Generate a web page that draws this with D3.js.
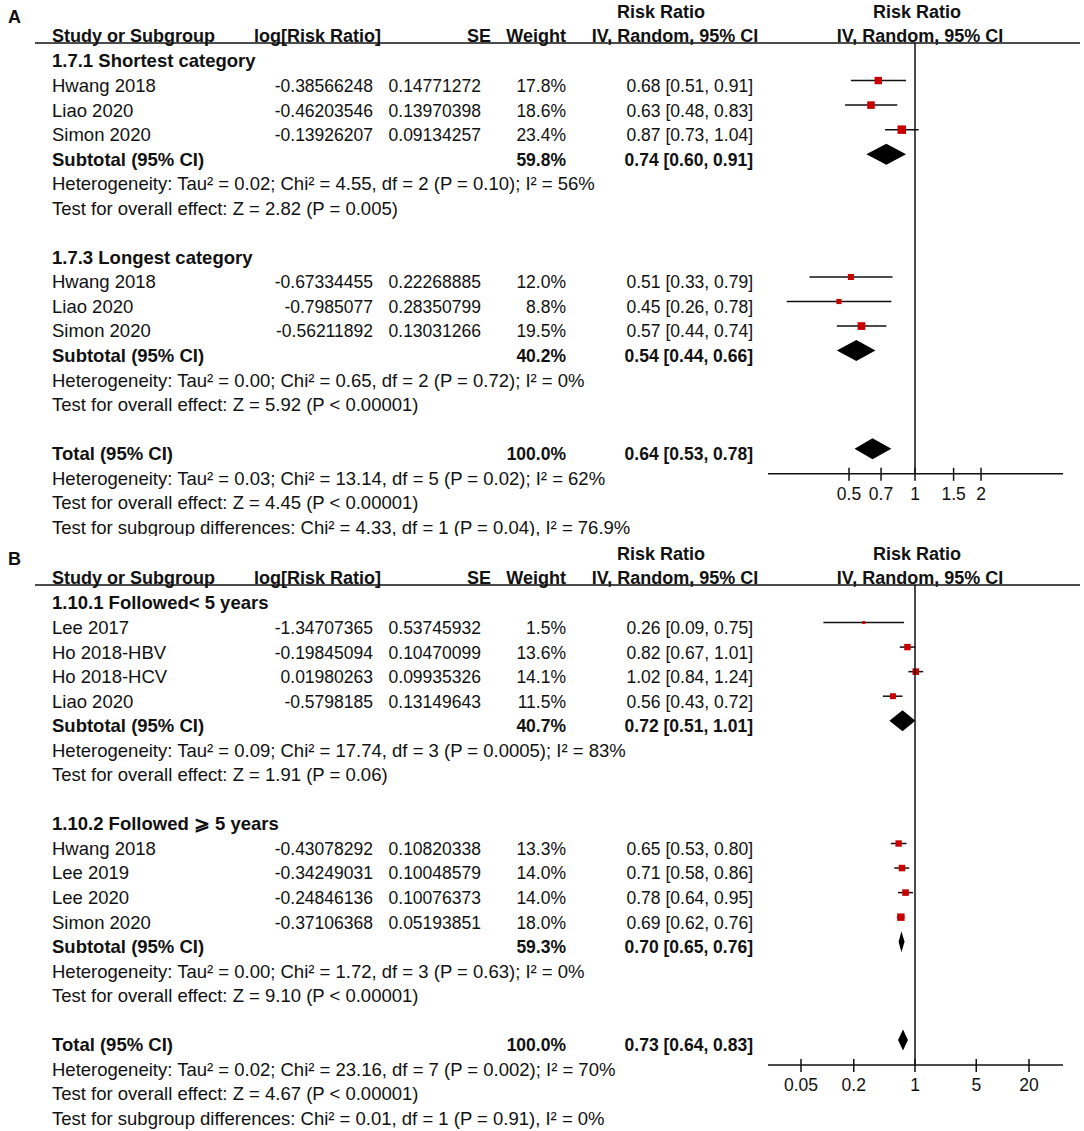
<!DOCTYPE html>
<html>
<head>
<meta charset="utf-8">
<script src="https://cdn.jsdelivr.net/npm/d3@7"></script>
<style>
body { margin: 0; background: #fff; }
svg text { font-family: "Liberation Sans", Arial, sans-serif; font-size: 18.5px; fill: #111; }
.b { font-weight: bold; }
svg text.hd { font-size: 18px; }
svg text.sm { font-size: 17.5px; }
</style>
</head>
<body>
<svg id="chart" width="1084" height="1131"></svg>
<script>
// panel A
var aGroups = ["1.7.1 Shortest category", "1.7.3 Longest category"];
var aStudies = ["Hwang 2018", "Liao 2020", "Simon 2020", "Hwang 2018", "Liao 2020", "Simon 2020"];
var aGroupOf = [0, 0, 0, 1, 1, 1];
var aLogRR = [-0.38566248, -0.46203546, -0.13926207, -0.67334455, -0.7985077, -0.56211892];
var aSE = [0.14771272, 0.13970398, 0.09134257, 0.22268885, 0.28350799, 0.13031266];
var aWeight = [17.8, 18.6, 23.4, 12.0, 8.8, 19.5];
var aRR = [0.68, 0.63, 0.87, 0.51, 0.45, 0.57];
var aLow = [0.51, 0.48, 0.73, 0.33, 0.26, 0.44];
var aHigh = [0.91, 0.83, 1.04, 0.79, 0.78, 0.74];
var aSubWeight = [59.8, 40.2];
var aSubRR = [0.74, 0.54];
var aSubLow = [0.60, 0.44];
var aSubHigh = [0.91, 0.66];
var aSubHet = ["Heterogeneity: Tau² = 0.02; Chi² = 4.55, df = 2 (P = 0.10); I² = 56%",
    "Heterogeneity: Tau² = 0.00; Chi² = 0.65, df = 2 (P = 0.72); I² = 0%"];
var aSubTest = ["Test for overall effect: Z = 2.82 (P = 0.005)",
    "Test for overall effect: Z = 5.92 (P < 0.00001)"];
var aTotal = [0.64, 0.53, 0.78];
var aNotes = ["Heterogeneity: Tau² = 0.03; Chi² = 13.14, df = 5 (P = 0.02); I² = 62%",
    "Test for overall effect: Z = 4.45 (P < 0.00001)",
    "Test for subgroup differences: Chi² = 4.33, df = 1 (P = 0.04), I² = 76.9%"];
var aTicks = [0.5, 0.7, 1, 1.5, 2];

// panel B
var bGroups = ["1.10.1 Followed< 5 years", "1.10.2 Followed \u2A7E 5 years"];
var bStudies = ["Lee 2017", "Ho 2018-HBV", "Ho 2018-HCV", "Liao 2020", "Hwang 2018", "Lee 2019", "Lee 2020", "Simon 2020"];
var bGroupOf = [0, 0, 0, 0, 1, 1, 1, 1];
var bLogRR = [-1.34707365, -0.19845094, 0.01980263, -0.5798185, -0.43078292, -0.34249031, -0.24846136, -0.37106368];
var bSE = [0.53745932, 0.10470099, 0.09935326, 0.13149643, 0.10820338, 0.10048579, 0.10076373, 0.05193851];
var bWeight = [1.5, 13.6, 14.1, 11.5, 13.3, 14.0, 14.0, 18.0];
var bRR = [0.26, 0.82, 1.02, 0.56, 0.65, 0.71, 0.78, 0.69];
var bLow = [0.09, 0.67, 0.84, 0.43, 0.53, 0.58, 0.64, 0.62];
var bHigh = [0.75, 1.01, 1.24, 0.72, 0.80, 0.86, 0.95, 0.76];
var bSubWeight = [40.7, 59.3];
var bSubRR = [0.72, 0.70];
var bSubLow = [0.51, 0.65];
var bSubHigh = [1.01, 0.76];
var bSubHet = ["Heterogeneity: Tau² = 0.09; Chi² = 17.74, df = 3 (P = 0.0005); I² = 83%",
    "Heterogeneity: Tau² = 0.00; Chi² = 1.72, df = 3 (P = 0.63); I² = 0%"];
var bSubTest = ["Test for overall effect: Z = 1.91 (P = 0.06)",
    "Test for overall effect: Z = 9.10 (P < 0.00001)"];
var bTotal = [0.73, 0.64, 0.83];
var bNotes = ["Heterogeneity: Tau² = 0.02; Chi² = 23.16, df = 7 (P = 0.002); I² = 70%",
    "Test for overall effect: Z = 4.67 (P < 0.00001)",
    "Test for subgroup differences: Chi² = 0.01, df = 1 (P = 0.91), I² = 0%"];
var bTicks = [0.05, 0.2, 1, 5, 20];

var svg = d3.select("#chart");
var pitch = 24.55;
var plotLeft = 768, plotRight = 1063;
var boxSize = d3.scaleSqrt().domain([0, 100]).range([0, 17.5]);

var xA = d3.scaleLog().domain([0.5, 2]).range([849, 981]);
var xB = d3.scaleLog().domain([0.05, 20]).range([801, 1029]);

function ci(r, l, h) { return r.toFixed(2) + " [" + l.toFixed(2) + ", " + h.toFixed(2) + "]"; }

function txt(g, x, y, s, anchor, cls) {
    return g.append("text")
        .attr("x", x).attr("y", y + 6.4)
        .attr("text-anchor", anchor || "start")
        .attr("class", cls || null)
        .text(s);
}

function diamond(g, x, cy, r, l, h) {
    var hh = 10.5;
    g.append("path")
        .attr("d", "M" + x(l) + "," + cy + "L" + x(r) + "," + (cy - hh) + "L" + x(h) + "," + cy + "L" + x(r) + "," + (cy + hh) + "Z")
        .attr("fill", "#000");
}

function drawPanel(top, letter, d, x, clipH) {
    svg.append("clipPath").attr("id", "clip" + letter)
        .append("rect").attr("x", 0).attr("y", top).attr("width", 1084).attr("height", clipH);
    var g = svg.append("g").attr("clip-path", "url(#clip" + letter + ")");

    var lineY = top + 43;
    function row(i) { return lineY + 18 + i * pitch; }

    txt(g, 8, top + 17, letter, "start", "b hd");

    // headers
    txt(g, 661, top + 12, "Risk Ratio", "middle", "b hd");
    txt(g, 917, top + 12, "Risk Ratio", "middle", "b hd");
    txt(g, 52, top + 36, "Study or Subgroup", "start", "b hd");
    txt(g, 381, top + 36, "log[Risk Ratio]", "end", "b hd");
    txt(g, 491, top + 36, "SE", "end", "b hd");
    txt(g, 566, top + 36, "Weight", "end", "b hd");
    txt(g, 675, top + 36, "IV, Random, 95% CI", "middle", "b hd");
    txt(g, 920, top + 36, "IV, Random, 95% CI", "middle", "b hd");
    g.append("line").attr("x1", 35).attr("x2", 1080).attr("y1", lineY).attr("y2", lineY)
        .attr("stroke", "#111").attr("stroke-width", 1.5);

    var r = 0;
    d.groups.forEach(function (name, gi) {
        txt(g, 52, row(r), name, "start", "b");
        r++;
        d.studies.forEach(function (s, i) {
            if (d.groupOf[i] !== gi) return;
            var y = row(r);
            txt(g, 52, y, s);
            txt(g, 373, y, String(d.logRR[i]), "end", "sm");
            txt(g, 481, y, String(d.se[i]), "end", "sm");
            txt(g, 566, y, d.weight[i].toFixed(1) + "%", "end", "sm");
            txt(g, 753, y, ci(d.rr[i], d.low[i], d.high[i]), "end", "sm");
            var cy = y - 5;
            g.append("line")
                .attr("x1", x(d.low[i])).attr("x2", x(d.high[i]))
                .attr("y1", cy).attr("y2", cy)
                .attr("stroke", "#111").attr("stroke-width", 1.5);
            var sz = Math.max(3, boxSize(d.weight[i]));
            g.append("rect")
                .attr("x", x(d.rr[i]) - sz / 2).attr("y", cy - sz / 2)
                .attr("width", sz).attr("height", sz)
                .attr("fill", "#c80000");
            r++;
        });
        var ys = row(r);
        txt(g, 52, ys, "Subtotal (95% CI)", "start", "b");
        txt(g, 566, ys, d.subWeight[gi].toFixed(1) + "%", "end", "b sm");
        txt(g, 753, ys, ci(d.subRR[gi], d.subLow[gi], d.subHigh[gi]), "end", "b sm");
        diamond(g, x, ys - 5, d.subRR[gi], d.subLow[gi], d.subHigh[gi]);
        r++;
        txt(g, 52, row(r), d.subHet[gi]);
        r++;
        txt(g, 52, row(r), d.subTest[gi]);
        r += 2;
    });

    var yt = row(r);
    txt(g, 52, yt, "Total (95% CI)", "start", "b");
    txt(g, 566, yt, "100.0%", "end", "b sm");
    txt(g, 753, yt, ci(d.total[0], d.total[1], d.total[2]), "end", "b sm");
    diamond(g, x, yt - 5, d.total[0], d.total[1], d.total[2]);
    d.notes.forEach(function (n, i) { txt(g, 52, row(r + 1 + i), n); });

    // axis
    var axisY = yt + 20;
    g.append("line").attr("x1", x(1)).attr("x2", x(1)).attr("y1", lineY).attr("y2", axisY)
        .attr("stroke", "#111").attr("stroke-width", 1.5);
    g.append("line").attr("x1", plotLeft).attr("x2", plotRight).attr("y1", axisY).attr("y2", axisY)
        .attr("stroke", "#111").attr("stroke-width", 1.5);
    d.ticks.forEach(function (t) {
        g.append("line").attr("x1", x(t)).attr("x2", x(t)).attr("y1", axisY - 6).attr("y2", axisY + 7)
            .attr("stroke", "#111").attr("stroke-width", 1.5);
        txt(g, x(t), axisY + 20, String(t), "middle", "sm");
    });
}

drawPanel(0, "A", {
    groups: aGroups, studies: aStudies, groupOf: aGroupOf, logRR: aLogRR, se: aSE,
    weight: aWeight, rr: aRR, low: aLow, high: aHigh,
    subWeight: aSubWeight, subRR: aSubRR, subLow: aSubLow, subHigh: aSubHigh,
    subHet: aSubHet, subTest: aSubTest, total: aTotal, notes: aNotes, ticks: aTicks
}, xA, 536);

drawPanel(542, "B", {
    groups: bGroups, studies: bStudies, groupOf: bGroupOf, logRR: bLogRR, se: bSE,
    weight: bWeight, rr: bRR, low: bLow, high: bHigh,
    subWeight: bSubWeight, subRR: bSubRR, subLow: bSubLow, subHigh: bSubHigh,
    subHet: bSubHet, subTest: bSubTest, total: bTotal, notes: bNotes, ticks: bTicks
}, xB, 589);
</script>
</body>
</html>
